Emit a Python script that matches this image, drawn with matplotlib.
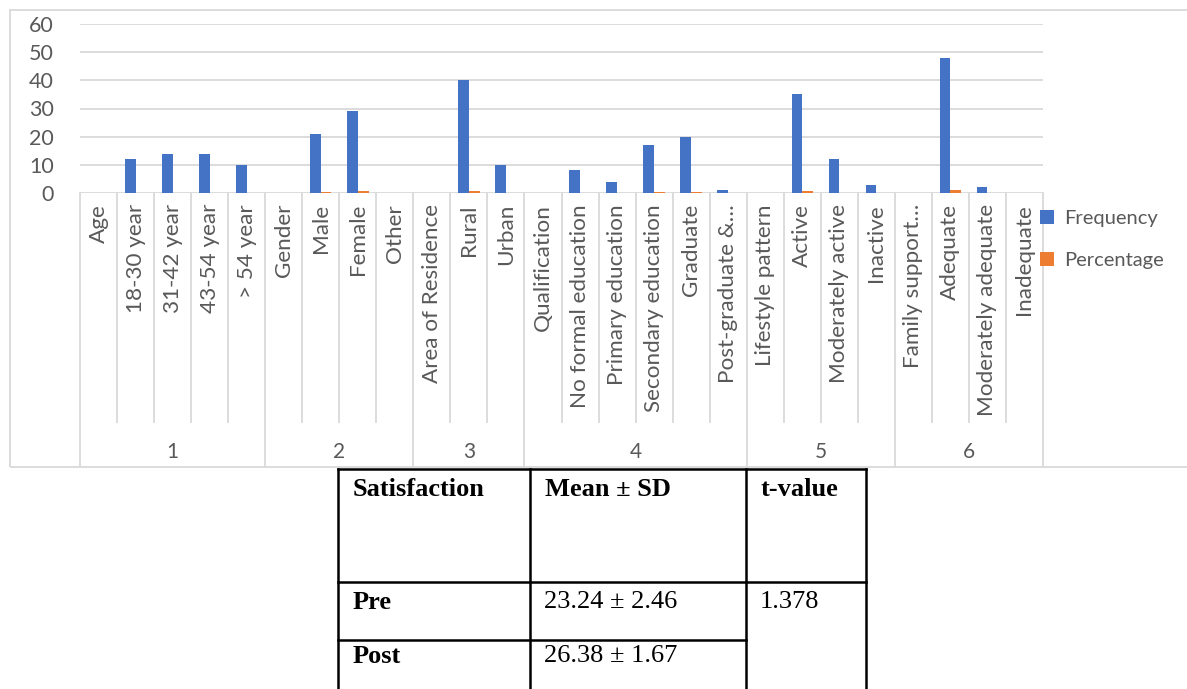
import numpy as np
import matplotlib
matplotlib.use("Agg")
import matplotlib.pyplot as plt
from matplotlib.lines import Line2D
from matplotlib.patches import Rectangle

# datos del grafico
categorias = ["Age", "18-30 year", "31-42 year", "43-54 year", "> 54 year",
              "Gender", "Male", "Female", "Other",
              "Area of Residence", "Rural", "Urban",
              "Qualification", "No formal education", "Primary education",
              "Secondary education", "Graduate", "Post-graduate &\u2026",
              "Lifestyle pattern", "Active", "Moderately active", "Inactive",
              "Family support\u2026", "Adequate", "Moderately adequate", "Inadequate"]
grupos = ["1", "2", "3", "4", "5", "6"]
tam_grupos = [5, 4, 3, 6, 4, 4]
frecuencia = [0, 12, 14, 14, 10,
              0, 21, 29, 0,
              0, 40, 10,
              0, 8, 4, 17, 20, 1,
              0, 35, 12, 3,
              0, 48, 2, 0]
porcentaje = [0, 0, 0, 0, 0,
              0, 0.42, 0.58, 0,
              0, 0.8, 0,
              0, 0, 0, 0.34, 0.4, 0,
              0, 0.7, 0, 0,
              0, 0.96, 0, 0]

# tabla de satisfaccion
cab_tabla = ["Satisfaction", "Mean \u00b1 SD", "t-value"]
filas_tabla = ["Pre", "Post"]
media_sd = ["23.24 \u00b1 2.46", "26.38 \u00b1 1.67"]
t_valor = "1.378"

W, H = 1187, 689
AZUL = "#4472C4"
NARANJA = "#ED7D31"
GRIS = "#D9D9D9"
TEXTO = "#595959"

plt.rcParams['font.family'] = ['Lato', 'DejaVu Sans']

def fx(x):
    return x / W

def fy(y):
    return 1 - y / H

fig = plt.figure(figsize=(W / 100, H / 100), dpi=100)

# marco del grafico
fig.add_artist(Rectangle((fx(10), fy(467)), fx(1190) - fx(10), fy(10) - fy(467),
                         fill=False, edgecolor=GRIS, linewidth=1.3))

x0, x1, y0, y1 = 80, 1043, 24, 193
ax = fig.add_axes([fx(x0), fy(y1), fx(x1) - fx(x0), fy(y0) - fy(y1)])

n = len(categorias)
x = np.arange(n)
ancho = 0.29
b1 = ax.bar(x - ancho / 2, frecuencia, ancho, color=AZUL, label="Frequency", zorder=3)
b2 = ax.bar(x + ancho / 2, porcentaje, ancho, color=NARANJA, label="Percentage", zorder=3)

ax.set_xlim(-0.5, n - 0.5)
ax.set_ylim(0, 60)
ax.set_yticks(range(0, 61, 10))
ax.yaxis.grid(True, color=GRIS, linewidth=1.3, zorder=0)
for s in ax.spines.values():
    s.set_visible(False)
ax.tick_params(axis='y', length=0, pad=19, labelsize=15.5, labelcolor=TEXTO)
ax.set_xticks(x)
ax.set_xticklabels(categorias, rotation=90, fontsize=16.2, color=TEXTO)
ax.tick_params(axis='x', length=0, pad=8)

# separadores del eje de categorias
alto = y1 - y0
y_hoja = -(422 - y1) / alto
y_fondo = -(467 - y1) / alto
trans = ax.get_xaxis_transform()
limites = np.cumsum([0] + tam_grupos)
for i in range(n + 1):
    ybajo = y_fondo if i in limites else y_hoja
    ax.add_line(Line2D([i - 0.5, i - 0.5], [0, ybajo], transform=trans,
                       color=GRIS, linewidth=1.3, clip_on=False))
for g, nombre in enumerate(grupos):
    centro = (limites[g] + limites[g + 1]) / 2 - 0.5
    ax.text(centro, -(452 - y1) / alto, nombre, transform=trans,
            ha='center', va='center', fontsize=15, color=TEXTO)

ax.legend(handles=[b1, b2], loc='upper left', bbox_to_anchor=(fx(1022), fy(192)),
          bbox_transform=fig.transFigure, frameon=False, fontsize=14.5,
          handlelength=0.7, handleheight=0.7, handletextpad=0.5,
          labelspacing=1.25, labelcolor=TEXTO)

# tabla debajo del grafico
xs = [338, 530, 746, 866]
ys = [469, 582, 640]
lw = 1.8
def linea(xa, ya, xb, yb):
    fig.add_artist(Line2D([fx(xa), fx(xb)], [fy(ya), fy(yb)], color='black', linewidth=lw))

linea(xs[0], ys[0], xs[3], ys[0])
linea(xs[0], ys[1], xs[3], ys[1])
linea(xs[0], ys[2], xs[2], ys[2])
for xv in xs:
    linea(xv, ys[0], xv, H + 2)

serif = ['Liberation Serif', 'DejaVu Serif']
tam = 19
for j, t in enumerate(cab_tabla):
    fig.text(fx(xs[j] + 15), fy(478), t, ha='left', va='top', fontsize=tam,
             fontweight='bold', family=serif)
tops = [591, 645]
for i, fila in enumerate(filas_tabla):
    fig.text(fx(xs[0] + 15), fy(tops[i]), fila, ha='left', va='top', fontsize=tam,
             fontweight='bold', family=serif)
    fig.text(fx(xs[1] + 14), fy(tops[i]), media_sd[i], ha='left', va='top',
             fontsize=tam, family=serif)
fig.text(fx(xs[2] + 14), fy(tops[0]), t_valor, ha='left', va='top', fontsize=tam,
         family=serif)

fig.savefig("out.png", dpi=100)
